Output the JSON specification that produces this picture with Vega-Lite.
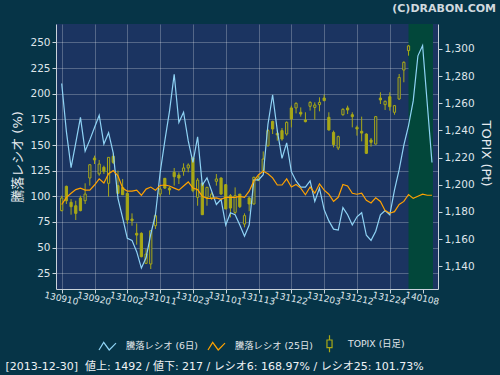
{
  "$schema": "https://vega.github.io/schema/vega-lite/v6.json",
  "width": 382,
  "height": 265,
  "autosize": {"type": "none"},
  "padding": {"left": 56, "top": 24, "right": 62, "bottom": 86},
  "background": "#063447",
  "config": {
    "font": "DejaVu Sans",
    "view": {"fill": "#1b3461", "stroke": null},
    "axis": {
      "labelColor": "#dfe5ea",
      "titleColor": "#e6ebef",
      "domainColor": "#c9d2da",
      "tickColor": "#c9d2da",
      "gridColor": "#ffffff",
      "gridOpacity": 0.25,
      "labelFont": "DejaVu Sans",
      "titleFont": "DejaVu Sans, Noto Sans CJK JP",
      "titleFontWeight": "normal",
      "tickSize": 4,
      "labelOverlap": false,
      "zindex": 1
    }
  },
  "title": {
    "text": "(C)DRABON.COM",
    "anchor": "end",
    "frame": "group",
    "fontSize": 11,
    "fontWeight": "bold",
    "color": "#d0d9df",
    "font": "DejaVu Sans",
    "dx": 58,
    "offset": 10
  },
  "datasets": {
    "band": [{"d": 74.0, "e": 79.22}],
    "ratio": [
      {"d":0,"r6":210,"r25":92},{"d":1,"r6":163,"r25":99},{"d":2,"r6":128,"r25":103},{"d":3,"r6":152,"r25":106.5},
      {"d":4,"r6":177,"r25":108},{"d":5,"r6":144,"r25":106},{"d":6,"r6":155,"r25":106},{"d":7,"r6":167,"r25":111},
      {"d":8,"r6":179,"r25":117},{"d":9,"r6":151,"r25":113},{"d":10,"r6":162,"r25":122},{"d":11,"r6":142,"r25":125},
      {"d":12,"r6":98,"r25":120},{"d":13,"r6":79,"r25":108},{"d":14,"r6":59,"r25":105},{"d":15,"r6":57,"r25":105},
      {"d":16,"r6":46,"r25":106},{"d":17,"r6":30,"r25":101},{"d":18,"r6":40,"r25":107},{"d":19,"r6":63,"r25":109},
      {"d":20,"r6":82,"r25":106},{"d":21,"r6":123,"r25":110.5},{"d":22,"r6":154,"r25":111},{"d":23,"r6":183,"r25":110},
      {"d":24,"r6":219,"r25":108},{"d":25,"r6":172,"r25":106},{"d":26,"r6":182,"r25":110},{"d":27,"r6":154,"r25":114},
      {"d":28,"r6":133,"r25":108},{"d":29,"r6":158,"r25":106.5},{"d":30,"r6":111,"r25":100},{"d":31,"r6":118,"r25":98},
      {"d":32,"r6":105,"r25":98},{"d":33,"r6":92,"r25":98.5},{"d":34,"r6":97,"r25":97},{"d":35,"r6":72,"r25":99},
      {"d":36,"r6":84,"r25":99},{"d":37,"r6":82,"r25":99},{"d":38,"r6":72,"r25":100},{"d":39,"r6":61,"r25":99},
      {"d":40,"r6":72,"r25":105},{"d":41,"r6":116,"r25":115},{"d":42,"r6":116,"r25":121},{"d":43,"r6":121,"r25":124.5},
      {"d":44,"r6":170,"r25":122},{"d":45,"r6":199,"r25":118},{"d":46,"r6":164,"r25":111},{"d":47,"r6":137,"r25":111},
      {"d":48,"r6":152,"r25":117},{"d":49,"r6":124,"r25":109},{"d":50,"r6":115,"r25":111.5},{"d":51,"r6":109,"r25":108},
      {"d":52,"r6":109,"r25":101.5},{"d":53,"r6":115,"r25":109},{"d":54,"r6":95,"r25":103},{"d":55,"r6":108,"r25":112},
      {"d":56,"r6":87,"r25":106},{"d":57,"r6":76,"r25":102},{"d":58,"r6":68,"r25":95},{"d":59,"r6":67,"r25":99},
      {"d":60,"r6":89,"r25":111.5},{"d":61,"r6":82,"r25":110},{"d":62,"r6":72,"r25":103},{"d":63,"r6":80,"r25":102},
      {"d":64,"r6":84,"r25":103},{"d":65,"r6":62,"r25":96},{"d":66,"r6":57,"r25":93.5},{"d":67,"r6":66,"r25":98.5},
      {"d":68,"r6":82,"r25":95},{"d":69,"r6":86,"r25":86},{"d":70,"r6":82,"r25":83.5},{"d":71,"r6":106,"r25":85},
      {"d":72,"r6":126,"r25":92},{"d":73,"r6":150,"r25":95},{"d":74,"r6":168.97,"r25":101.73},{"d":75,"r6":193,"r25":98},
      {"d":76,"r6":237,"r25":100},{"d":77,"r6":247,"r25":102},{"d":78,"r6":190,"r25":101},{"d":79,"r6":133,"r25":101}
    ],
    "topix": [
      {"d":0,"o":1181.0,"h":1192.0,"l":1180.5,"c":1190.3},
      {"d":1,"o":1198.9,"h":1199.4,"l":1185.9,"c":1188.3},
      {"d":2,"o":1187.1,"h":1189.5,"l":1178.0,"c":1183.9},
      {"d":3,"o":1184.6,"h":1188.3,"l":1174.1,"c":1179.0},
      {"d":4,"o":1190.3,"h":1192.0,"l":1180.5,"c":1181.0},
      {"d":5,"o":1188.3,"h":1201.1,"l":1185.9,"c":1193.2},
      {"d":6,"o":1205.0,"h":1215.3,"l":1199.4,"c":1214.8},
      {"d":7,"o":1219.7,"h":1221.5,"l":1215.3,"c":1218.3},
      {"d":8,"o":1208.0,"h":1218.3,"l":1206.7,"c":1215.3},
      {"d":9,"o":1212.9,"h":1214.1,"l":1208.0,"c":1209.9},
      {"d":10,"o":1201.1,"h":1220.2,"l":1191.3,"c":1220.2},
      {"d":11,"o":1221.0,"h":1223.2,"l":1215.3,"c":1216.5},
      {"d":12,"o":1199.4,"h":1210.4,"l":1193.2,"c":1193.7},
      {"d":13,"o":1198.1,"h":1204.3,"l":1192.7,"c":1192.7},
      {"d":14,"o":1193.7,"h":1194.5,"l":1171.1,"c":1174.1},
      {"d":15,"o":1174.8,"h":1179.0,"l":1169.9,"c":1173.6},
      {"d":16,"o":1164.3,"h":1171.6,"l":1155.9,"c":1163.0},
      {"d":17,"o":1164.3,"h":1165.0,"l":1146.6,"c":1147.1},
      {"d":18,"o":1142.2,"h":1152.7,"l":1141.7,"c":1149.0},
      {"d":19,"o":1141.7,"h":1166.7,"l":1138.0,"c":1166.2},
      {"d":20,"o":1169.9,"h":1179.0,"l":1167.5,"c":1177.3},
      {"d":21,"o":1193.2,"h":1198.1,"l":1191.3,"c":1196.9},
      {"d":22,"o":1204.8,"h":1205.0,"l":1196.9,"c":1197.6},
      {"d":23,"o":1197.6,"h":1198.6,"l":1192.7,"c":1196.2},
      {"d":24,"o":1209.2,"h":1212.4,"l":1199.4,"c":1206.0},
      {"d":25,"o":1207.2,"h":1209.2,"l":1200.6,"c":1205.0},
      {"d":26,"o":1209.9,"h":1215.8,"l":1206.7,"c":1212.4},
      {"d":27,"o":1212.4,"h":1215.8,"l":1209.2,"c":1214.6},
      {"d":28,"o":1219.7,"h":1220.7,"l":1194.5,"c":1195.7},
      {"d":29,"o":1190.8,"h":1205.0,"l":1184.6,"c":1203.5},
      {"d":30,"o":1201.1,"h":1201.8,"l":1178.0,"c":1178.0},
      {"d":31,"o":1190.8,"h":1198.6,"l":1184.6,"c":1198.1},
      {"d":32,"o":1190.3,"h":1194.5,"l":1188.8,"c":1193.2},
      {"d":33,"o":1202.6,"h":1208.0,"l":1199.4,"c":1204.3},
      {"d":34,"o":1205.0,"h":1205.5,"l":1192.7,"c":1193.2},
      {"d":35,"o":1200.1,"h":1200.6,"l":1182.2,"c":1182.2},
      {"d":36,"o":1192.0,"h":1193.2,"l":1176.0,"c":1182.9},
      {"d":37,"o":1179.7,"h":1198.1,"l":1178.5,"c":1192.0},
      {"d":38,"o":1193.2,"h":1193.2,"l":1182.9,"c":1183.9},
      {"d":39,"o":1171.1,"h":1179.0,"l":1168.7,"c":1177.3},
      {"d":40,"o":1190.3,"h":1191.3,"l":1180.5,"c":1185.9},
      {"d":41,"o":1185.9,"h":1206.0,"l":1185.4,"c":1205.5},
      {"d":42,"o":1203.1,"h":1206.7,"l":1203.1,"c":1205.0},
      {"d":43,"o":1210.4,"h":1224.6,"l":1209.2,"c":1219.0},
      {"d":44,"o":1228.8,"h":1241.1,"l":1228.1,"c":1239.9},
      {"d":45,"o":1246.7,"h":1247.2,"l":1237.4,"c":1241.1},
      {"d":46,"o":1237.9,"h":1240.4,"l":1232.5,"c":1236.7},
      {"d":47,"o":1239.9,"h":1241.8,"l":1232.5,"c":1233.7},
      {"d":48,"o":1237.4,"h":1246.7,"l":1236.2,"c":1246.0},
      {"d":49,"o":1256.6,"h":1258.3,"l":1242.3,"c":1248.5},
      {"d":50,"o":1256.6,"h":1260.7,"l":1252.6,"c":1260.0},
      {"d":51,"o":1253.4,"h":1257.0,"l":1250.2,"c":1252.1},
      {"d":52,"o":1247.7,"h":1253.4,"l":1246.0,"c":1246.5},
      {"d":53,"o":1257.8,"h":1261.5,"l":1254.6,"c":1260.7},
      {"d":54,"o":1257.0,"h":1260.7,"l":1248.0,"c":1258.8},
      {"d":55,"o":1259.0,"h":1264.4,"l":1254.1,"c":1260.7},
      {"d":56,"o":1263.9,"h":1266.4,"l":1261.5,"c":1262.0},
      {"d":57,"o":1249.7,"h":1253.4,"l":1239.9,"c":1240.4},
      {"d":58,"o":1238.6,"h":1239.9,"l":1227.6,"c":1229.6},
      {"d":59,"o":1227.1,"h":1236.2,"l":1225.6,"c":1235.5},
      {"d":60,"o":1251.6,"h":1256.3,"l":1250.9,"c":1255.6},
      {"d":61,"o":1256.6,"h":1258.3,"l":1252.1,"c":1255.1},
      {"d":62,"o":1251.6,"h":1253.4,"l":1242.3,"c":1250.2},
      {"d":63,"o":1242.3,"h":1243.6,"l":1236.2,"c":1241.1},
      {"d":64,"o":1239.4,"h":1250.2,"l":1232.0,"c":1238.1},
      {"d":65,"o":1237.4,"h":1237.9,"l":1222.7,"c":1223.2},
      {"d":66,"o":1233.0,"h":1234.5,"l":1228.1,"c":1231.3},
      {"d":67,"o":1230.0,"h":1250.7,"l":1229.6,"c":1250.2},
      {"d":68,"o":1263.9,"h":1268.1,"l":1259.5,"c":1262.5},
      {"d":69,"o":1259.0,"h":1262.0,"l":1255.1,"c":1261.5},
      {"d":70,"o":1264.9,"h":1268.1,"l":1254.6,"c":1257.5},
      {"d":71,"o":1253.4,"h":1258.8,"l":1251.6,"c":1258.3},
      {"d":72,"o":1263.2,"h":1281.6,"l":1262.5,"c":1279.1},
      {"d":73,"o":1284.5,"h":1290.9,"l":1275.5,"c":1290.2},
      {"d":74,"o":1298.8,"h":1303.0,"l":1295.1,"c":1302.3}
    ]
  },
  "encoding": {
    "x": {
      "field": "d", "type": "quantitative",
      "scale": {"domain": [-0.15, 79.22], "nice": false, "zero": false},
      "axis": {
        "values": [0, 7, 14, 21, 28, 35, 42, 49, 56, 63, 70, 77],
        "labelExpr": "['130910','130920','131002','131011','131023','131101','131113','131122','131203','131212','131224','140108'][round(datum.value/7)]",
        "labelAngle": 12,
        "labelAlign": "center",
        "labelBaseline": "top",
        "labelFontSize": 9,
        "labelPadding": 1,
        "labelOverlap": false,
        "labelFlush": false,
        "labelBound": false,
        "grid": true,
        "title": "[2013-12-30]\u00a0 値上: 1492 / 値下: 217 / レシオ6: 168.97% / レシオ25: 101.73%",
        "titleX": -51,
        "titleY": 80,
        "titleAlign": "left",
        "titleAnchor": "start",
        "titleBaseline": "alphabetic",
        "titleFontSize": 11,
        "titleColor": "#eef2f5"
      }
    }
  },
  "layer": [
    {
      "data": {"name": "band"},
      "mark": {"type": "rect", "color": "#02473a"},
      "encoding": {
        "x2": {"field": "e"}
      }
    },
    {
      "data": {"name": "topix"},
      "layer": [
        {
          "mark": {"type": "rule", "color": "#a8a817", "strokeWidth": 1},
          "encoding": {
            "y": {
              "field": "l", "type": "quantitative",
              "scale": {"domain": [1123.3, 1318.4], "nice": false, "zero": false},
              "axis": {
                "orient": "right",
                "values": [1140, 1160, 1180, 1200, 1220, 1240, 1260, 1280, 1300],
                "format": ",d",
                "labelOverlap": false,
                "grid": false,
                "labelFontSize": 10.5,
                "labelPadding": 2,
                "title": "TOPIX (Pt)",
                "titleAngle": 90,
                "titleX": 47,
                "titleY": 129,
                "titleAlign": "center",
                "titleBaseline": "middle",
                "titleFontSize": 13
              }
            },
            "y2": {"field": "h"}
          }
        },
        {
          "mark": {"type": "bar", "size": 2.2, "stroke": "#a8a817", "strokeWidth": 1},
          "encoding": {
            "y": {
              "field": "o", "type": "quantitative",
              "scale": {"domain": [1123.3, 1318.4], "nice": false, "zero": false},
              "axis": {
                "orient": "right",
                "values": [1140, 1160, 1180, 1200, 1220, 1240, 1260, 1280, 1300],
                "format": ",d",
                "labelOverlap": false,
                "grid": false,
                "labelFontSize": 10.5,
                "labelPadding": 2,
                "title": "TOPIX (Pt)",
                "titleAngle": 90,
                "titleX": 47,
                "titleY": 129,
                "titleAlign": "center",
                "titleBaseline": "middle",
                "titleFontSize": 13
              }
            },
            "y2": {"field": "c"},
            "fill": {
              "condition": {"test": "datum.c < datum.o", "value": "#a8a817"},
              "value": "#1b3461"
            }
          }
        }
      ]
    },
    {
      "data": {"name": "ratio"},
      "layer": [
        {
          "mark": {"type": "line", "strokeWidth": 1.2},
          "encoding": {
            "y": {
              "field": "r6", "type": "quantitative",
              "scale": {"domain": [9.6, 268], "nice": false, "zero": false},
              "axis": {
                "orient": "left",
                "values": [25, 50, 75, 100, 125, 150, 175, 200, 225, 250],
                "labelOverlap": false,
                "grid": true,
                "labelFontSize": 10.5,
                "labelPadding": 2,
                "title": "騰落レシオ (%)",
                "titleAngle": -90,
                "titleX": -39,
                "titleY": 132.5,
                "titleAlign": "center",
                "titleBaseline": "middle",
                "titleFontSize": 13
              }
            },
            "color": {
              "datum": "騰落レシオ (6日)",
              "type": "nominal",
              "scale": {
                "domain": ["騰落レシオ (6日)", "騰落レシオ (25日)", "TOPIX (日足)"],
                "range": ["#8fd3f5", "#ffa200", "#a8a817"]
              },
              "legend": {
                "orient": "none",
                "legendX": 42,
                "legendY": 310,
                "direction": "horizontal",
                "title": null,
                "padding": 0,
                "symbolSize": 289,
                "symbolStrokeWidth": 1.2,
                "labelFontSize": 9.3,
                "labelColor": "#e0e6ea",
                "labelFont": "DejaVu Sans, Noto Sans CJK JP",
                "labelOffset": 9,
                "columnPadding": 7,
                "encoding": {
                  "symbols": {
                    "shape": {
                      "condition": {"test": "datum.value === 'TOPIX (日足)'", "value": "M0,-1L0,-0.45M-0.3,-0.45L0.3,-0.45L0.3,0.45L-0.3,0.45ZM0,0.45L0,1"},
                      "value": "M-1,0.45L-0.45,-0.45L0.2,0.45L1,-0.35"
                    },
                    "fill": {"value": "transparent"}
                  }
                }
              }
            }
          }
        },
        {
          "mark": {"type": "line", "strokeWidth": 1.2},
          "encoding": {
            "y": {
              "field": "r25", "type": "quantitative",
              "scale": {"domain": [9.6, 268], "nice": false, "zero": false},
              "axis": {
                "orient": "left",
                "values": [25, 50, 75, 100, 125, 150, 175, 200, 225, 250],
                "labelOverlap": false,
                "grid": true,
                "labelFontSize": 10.5,
                "labelPadding": 2,
                "title": "騰落レシオ (%)",
                "titleAngle": -90,
                "titleX": -39,
                "titleY": 132.5,
                "titleAlign": "center",
                "titleBaseline": "middle",
                "titleFontSize": 13
              }
            },
            "color": {"datum": "騰落レシオ (25日)", "type": "nominal"}
          }
        }
      ]
    }
  ],
  "resolve": {"scale": {"y": "independent"}}
}
